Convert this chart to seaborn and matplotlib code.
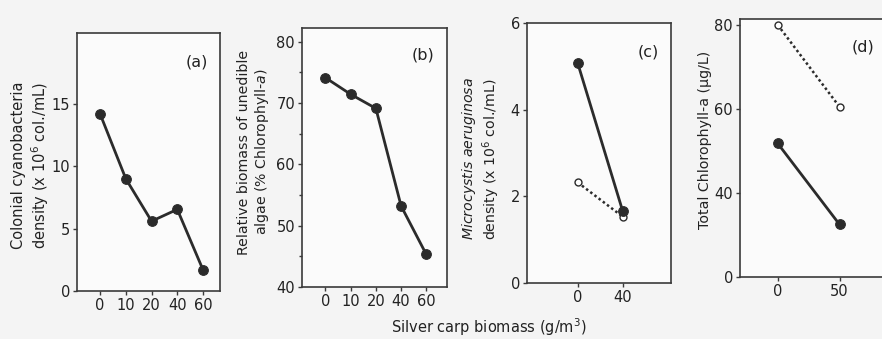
import numpy as np
import pandas as pd
import seaborn as sns
import matplotlib.pyplot as plt

sns.set_theme(style='ticks')
plt.rcParams['font.family'] = ['DejaVu Sans']

# data
dose_ab = ['0', '10', '20', '40', '60']
colonial = [14.2, 9.0, 5.6, 6.55, 1.7]          # (a) x 10^6 col./mL
unedible = [74.1, 71.4, 69.1, 53.2, 45.3]       # (b) % Chlorophyll-a

dose_c = ['0', '40']
micro_filled = [5.07, 1.66]                     # (c) solid line
micro_open = [2.32, 1.53]                       # (c) dotted line

dose_d = ['0', '50']
chl_filled = [51.8, 32.5]                       # (d) solid line
chl_open = [80.0, 60.5]                         # (d) dotted line
# axis in (d) is broken in the original: bottom tick reads 0
yticks_d = [20, 40, 60, 80]
yticklabels_d = ['0', '40', '60', '80']

ink = '#2b2b2b'
bg = '#f4f4f4'

fig = plt.figure(figsize=(8.82, 3.39), dpi=100, facecolor=bg)


def draw(ax, cats, vals, filled=True):
    df = pd.DataFrame({'x': np.arange(len(cats)), 'y': vals})
    if filled:
        sns.lineplot(data=df, x='x', y='y', ax=ax, color=ink, lw=2.0,
                     marker='o', ms=7, mfc=ink, mec=ink)
    else:
        sns.lineplot(data=df, x='x', y='y', ax=ax, color=ink, lw=1.8,
                     linestyle=(0, (1, 1.1)), marker='o', ms=5,
                     mfc='white', mec=ink, mew=1.0)


def style(ax, cats, xlim, ylim, yticks):
    ax.set_facecolor('#fbfbfb')
    ax.set_xticks(np.arange(len(cats)))
    ax.set_xticklabels(cats)
    ax.set_xlim(*xlim)
    ax.set_ylim(*ylim)
    ax.set_yticks(yticks)
    ax.set_xlabel('')
    ax.set_ylabel('')
    for s in ax.spines.values():
        s.set_color('#3a3a3a')
        s.set_linewidth(1.2)
        s.set_visible(True)
    ax.tick_params(direction='out', length=3, width=1, color='#3a3a3a',
                   labelsize=10.5, pad=2, labelcolor='#222222')


ax_a = fig.add_axes([0.0873, 0.1416, 0.1621, 0.761])
draw(ax_a, dose_ab, colonial)
style(ax_a, dose_ab, (-0.9, 4.66), (0, 20.7), [0, 5, 10, 15])

ax_b = fig.add_axes([0.3424, 0.1534, 0.1644, 0.764])
draw(ax_b, dose_ab, unedible)
style(ax_b, dose_ab, (-0.93, 4.82), (40, 82.2), [40, 50, 60, 70, 80])
ax_b.set_yticks([45, 55, 65, 75], minor=True)
ax_b.tick_params(which='minor', direction='out', length=2, color='#3a3a3a')

ax_c = fig.add_axes([0.5975, 0.1652, 0.163, 0.767])
draw(ax_c, dose_c, micro_open, filled=False)
draw(ax_c, dose_c, micro_filled)
style(ax_c, dose_c, (-1.13, 2.07), (0, 6.0), [0, 2, 4, 6])

ax_d = fig.add_axes([0.839, 0.1829, 0.164, 0.761])
draw(ax_d, dose_d, chl_open, filled=False)
draw(ax_d, dose_d, chl_filled)
style(ax_d, dose_d, (-0.61, 1.73), (20, 81.4), yticks_d)
ax_d.set_yticklabels(yticklabels_d)

# panel letters
for ax, lab, (px, py) in [(ax_a, '(a)', (197, 62)), (ax_b, '(b)', (423, 55)),
                          (ax_c, '(c)', (648, 52)), (ax_d, '(d)', (863, 47))]:
    fig.text(px / 882, 1 - py / 339, lab, ha='center', va='center',
             fontsize=11.5, color='#222222')

# y labels
fig.text(31 / 882, 1 - 165 / 339,
         'Colonial cyanobacteria\ndensity (x 10$^6$ col./mL)',
         rotation=90, ha='center', va='center', fontsize=10.5,
         linespacing=1.15, color='#222222')
fig.text(254 / 882, 1 - 152 / 339,
         'Relative biomass of unedible\nalgae (% Chlorophyll-$a$)',
         rotation=90, ha='center', va='center', fontsize=10.2,
         linespacing=1.15, color='#222222')
fig.text(481 / 882, 1 - 159 / 339,
         '$\\it{Microcystis\\ aeruginosa}$\ndensity (x 10$^6$ col./mL)',
         rotation=90, ha='center', va='center', fontsize=10.2,
         linespacing=1.15, color='#222222')
fig.text(705 / 882, 1 - 140 / 339,
         'Total Chlorophyll-a (\u03bcg/L)',
         rotation=90, ha='center', va='center', fontsize=10.2,
         color='#222222')

# shared x label
fig.text(489 / 882, 1 - 327 / 339, 'Silver carp biomass (g/m$^3$)',
         ha='center', va='center', fontsize=10.5, color='#222222')

fig.savefig('out.png', dpi=100, facecolor=bg)
